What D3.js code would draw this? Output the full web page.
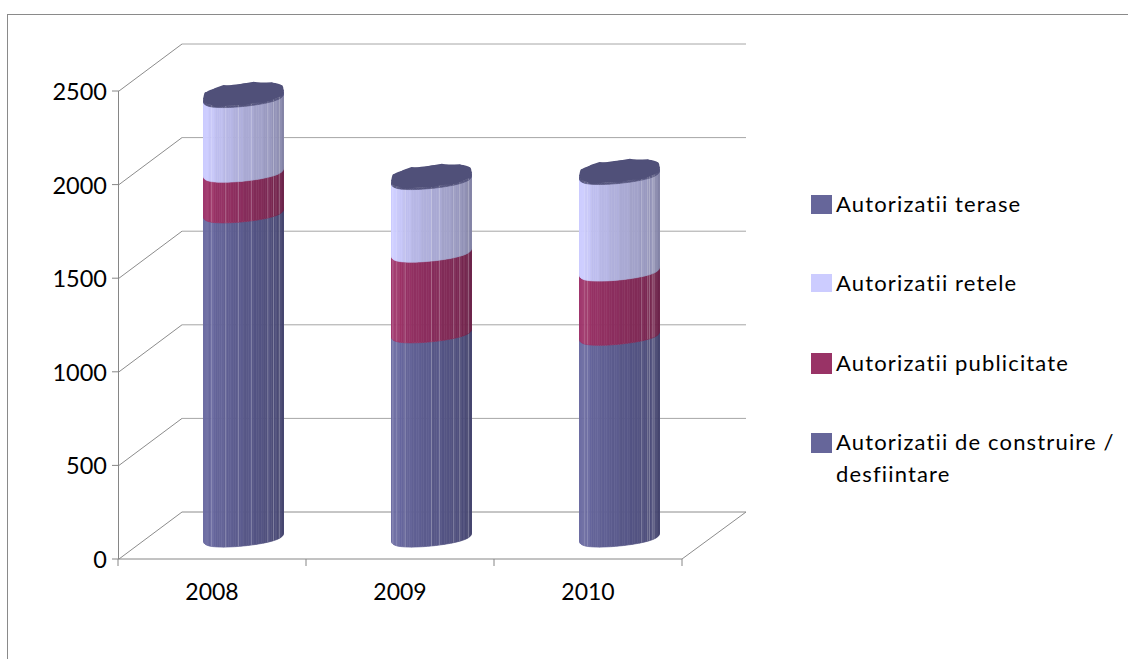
<!DOCTYPE html>
<html><head><meta charset="utf-8">
<script src="https://cdn.jsdelivr.net/npm/d3@7/dist/d3.min.js"></script>
<style>html,body{margin:0;padding:0;background:#fff}svg{display:block}text{font-family:Lato,"Open Sans",sans-serif;fill:#000}</style>
</head><body><svg id="c" width="1128" height="659"></svg>
<script>
const years = ["2008","2009","2010"];
const seriesNames = ["Autorizatii de construire / desfiintare","Autorizatii publicitate","Autorizatii retele","Autorizatii terase"];
const construire = [1732,1091,1078];
const publicitate = [217,431,343];
const retele = [399,388,516];
const terase = [10,10,10];
const yTicks = [0,500,1000,1500,2000,2500];
const seriesLight = ["#6b6ba2","#a0356b","#ccccff","#56567f"];
const seriesDark = ["#42426a","#682347","#7f7f9f","#56567f"];
const legendColors = ["#66669a","#993366","#ccccff","#66669a"];
const seamFacets = [[10,17,22,27,34,37,41],[4,8,13,24,27,33,36,42],[8,10,33,36,37,39,40]];
const topWobble = [0,1,-1,0.5,1,-0.5,1,-1,0.5,1.5,-1,0.5,0,-1,1,-0.5,-1.5,1,0,-1,1,-0.5,1,0];

const svg = d3.select("#c");
const frontLeft = 119, frontRight = 682, base = 559, top2500 = 91;
const depthX = 63, depthY = 47;
const y = d3.scaleLinear().domain([0,2500]).range([base,top2500]);
const x = d3.scaleBand().domain(years).range([118,682]);
const gridC = "#a6a6a6", axisC = "#868686";

svg.append("rect").attr("x",7.5).attr("y",14.5).attr("width",1140).attr("height",660)
  .attr("fill","#fff").attr("stroke","#8a8a8a");

// walls
const wall = svg.append("g").attr("fill","none").attr("stroke",gridC);
yTicks.forEach(t=>{
  const yy = y(t);
  wall.append("path").attr("d",`M${frontLeft},${yy}L${frontLeft+depthX},${yy-depthY}`).attr("stroke","#8c8c8c");
  wall.append("path").attr("d",`M${frontLeft+depthX},${yy-depthY}L${746},${yy-depthY}`)
    .attr("stroke", t===0?"#8c8c8c":gridC);
});
wall.append("path").attr("d",`M${frontRight},${base}L746,${base-depthY}`).attr("stroke","#8c8c8c");

// axes
const ax = svg.append("g").attr("stroke",axisC).attr("fill","none");
ax.append("path").attr("d",`M${frontLeft-.5},${y(2500)}V${base}`);
ax.append("path").attr("d",`M${frontLeft-.5},${base}H${frontRight}`);
yTicks.forEach(t=>ax.append("path").attr("d",`M${frontLeft-7},${y(t)}H${frontLeft}`));
years.concat("end").forEach((c,i)=>{
  const px = 118 + i*x.bandwidth();
  ax.append("path").attr("d",`M${px},${base}V${base+7}`);
});
svg.append("g").selectAll("text").data(yTicks).join("text")
  .attr("x",107).attr("y",d=>y(d)+9).attr("text-anchor","end")
  .attr("font-size",23.5).text(d=>d);
svg.append("g").selectAll("text").data(years).join("text")
  .attr("x",d=>x(d)+x.bandwidth()/2).attr("y",600).attr("text-anchor","middle")
  .attr("font-size",23).text(d=>d);

// cylinders
const rx = 40, ry = 10.5, skew = -4, nFacets = 48;
const floorY = v => y(v) - depthY/2;
const squash = s => Math.sign(s)*Math.pow(Math.abs(s),0.6);
const pt = (cx,cy,t,w=0)=>[cx+rx*Math.cos(t), cy + ry*squash(Math.sin(t)) + skew*Math.cos(t) + w];
const angle = i => Math.PI - Math.PI*i/nFacets;
const shade = (k,i)=>{
  const f = Math.floor(i/4)*4/(nFacets-1);
  const g = f<0.1 ? 0.0 : (f-0.1)/0.9;
  return d3.interpolateRgb(seriesLight[k],seriesDark[k])(g);
};
const stacks = [construire,publicitate,retele,terase];

years.forEach((yr,b)=>{
  const cx = x(yr)+x.bandwidth()/2+depthX/2;
  const g = svg.append("g");
  let cum = 0;
  stacks.forEach((s,k)=>{
    const v0 = cum, v1 = cum + s[b]; cum = v1;
    const y0 = floorY(v0), y1 = floorY(v1);
    const seg = g.append("g");
    d3.range(nFacets).forEach(i=>{
      const t0 = angle(i), t1 = angle(i+1);
      const a0 = pt(cx,y0,t0), a1 = pt(cx,y0,t1), c0 = pt(cx,y1,t0), c1 = pt(cx,y1,t1);
      seg.append("path").attr("d",`M${c0}L${c1}L${a1}L${a0}Z`)
        .attr("fill",shade(k,i)).attr("stroke",shade(k,i)).attr("stroke-width",.6);
    });
    seamFacets[b].forEach(i=>{
      const t = angle(i);
      const a = pt(cx,y0,t), c = pt(cx,y1,t);
      seg.append("line").attr("x1",a[0]).attr("y1",a[1]).attr("x2",c[0]).attr("y2",c[1])
        .attr("stroke","#fff").attr("stroke-opacity",.25).attr("stroke-width",1);
    });
  });
  // top cap: plain disc, then its slightly irregular outline
  const yTop = floorY(cum);
  const disc = d3.range(48).map(i=>pt(cx,yTop,2*Math.PI*i/48));
  g.append("path").attr("d",d3.line().curve(d3.curveLinearClosed)(disc)).attr("fill","#505079");
  const cap = d3.range(topWobble.length).map(i=>{
    const t = 2*Math.PI*i/topWobble.length;
    return pt(cx,yTop,t,topWobble[i]);
  });
  g.append("path").attr("d",d3.line().curve(d3.curveLinearClosed)(cap)).attr("fill","#505079");
});

// legend
const legendRows = [
  {k:3,lines:["Autorizatii terase"],sy:195,sh:19,ty:212},
  {k:2,lines:["Autorizatii retele"],sy:274,sh:18,ty:291},
  {k:1,lines:["Autorizatii publicitate"],sy:353,sh:21,ty:371},
  {k:0,lines:["Autorizatii de construire /","desfiintare"],sy:433,sh:20,ty:450}
];
const lg = svg.append("g");
legendRows.forEach(r=>{
  lg.append("rect").attr("x",811).attr("y",r.sy).attr("width",21).attr("height",r.sh).attr("fill",legendColors[r.k]);
  r.lines.forEach((l,i)=>lg.append("text").attr("x",836).attr("y",r.ty+i*32)
    .attr("font-size",22).attr("letter-spacing",1.15).text(l));
});
</script></body></html>
